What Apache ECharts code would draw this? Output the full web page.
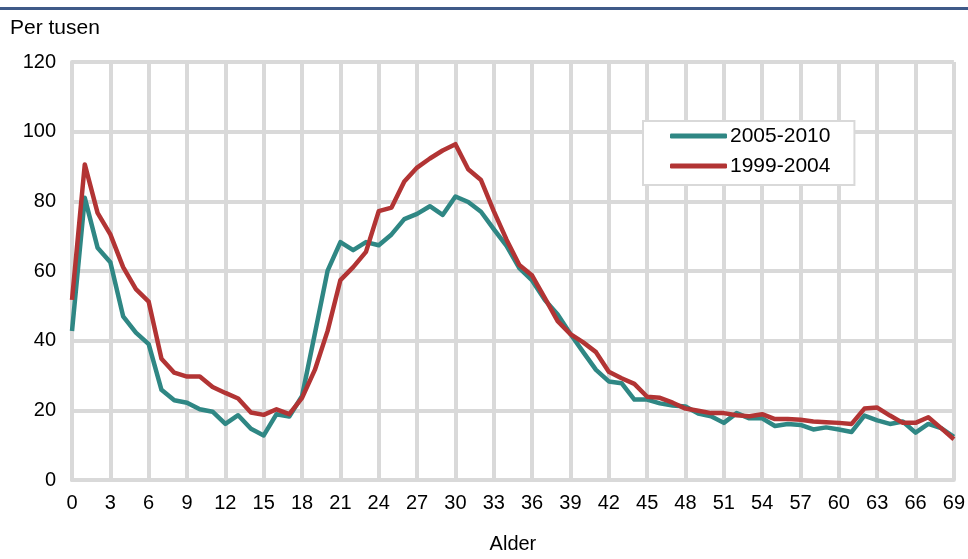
<!DOCTYPE html>
<html>
<head>
<meta charset="utf-8">
<style>
  html, body { margin: 0; padding: 0; background: #fff; }
  #chart { width: 968px; height: 559px; }
</style>
<script src="https://cdn.jsdelivr.net/npm/echarts@6/dist/echarts.min.js"></script>
</head>
<body>
<div id="chart"></div>
<script>
// Alder 0–69
const ages = Array.from({ length: 70 }, (_, i) => i);

// Per tusen, 2005-2010
const rate2005_2010 = [
  42.8, 81.0, 66.7, 62.5, 47.0, 42.3, 39.0, 25.9, 22.9, 22.2,
  20.3, 19.6, 16.1, 18.6, 14.7, 12.8, 18.9, 18.2, 24.1, 42.0,
  60.1, 68.3, 66.0, 68.3, 67.4, 70.5, 74.9, 76.4, 78.6, 76.1,
  81.4, 79.8, 77.0, 72.0, 67.2, 60.8, 57.3, 51.7, 47.5, 41.9,
  36.7, 31.6, 28.3, 27.8, 23.1, 23.1, 22.0, 21.4, 21.1, 19.1,
  18.3, 16.4, 19.2, 17.7, 17.7, 15.5, 16.1, 15.8, 14.5, 15.1,
  14.5, 13.8, 18.5, 17.1, 16.1, 16.8, 13.6, 16.1, 14.9, 12.4
];

// Per tusen, 1999-2004
const rate1999_2004 = [
  51.7, 90.6, 76.7, 70.5, 61.1, 54.8, 51.2, 34.8, 30.8, 29.7,
  29.7, 26.7, 25.0, 23.4, 19.4, 18.7, 20.3, 18.9, 23.6, 31.6,
  42.8, 57.4, 61.1, 65.5, 77.2, 78.2, 85.7, 89.7, 92.3, 94.6,
  96.4, 89.2, 86.1, 77.2, 69.0, 61.7, 58.7, 52.2, 45.6, 41.9,
  39.5, 36.7, 31.1, 29.2, 27.6, 23.9, 23.6, 22.2, 20.5, 19.9,
  19.2, 19.2, 18.6, 18.3, 18.9, 17.5, 17.5, 17.3, 16.8, 16.6,
  16.4, 16.1, 20.5, 20.8, 18.5, 16.4, 16.4, 18.0, 14.9, 11.7
];

const seriesNames = ['2005-2010', '1999-2004'];
const seriesColors = ['#2f8784', '#b23434'];

const yTicks = { min: 0, max: 120, step: 20 };
const xTicks = { min: 0, max: 69, step: 3 };

const gridGrey = '#d9d9d9';
const font = 'Liberation Sans, Arial, sans-serif';

const pairs = (vals) => ages.map((a, i) => [a, vals[i]]);

const chart = echarts.init(document.getElementById('chart'), null, { renderer: 'canvas' });

chart.setOption({
  animation: false,
  backgroundColor: '#ffffff',
  textStyle: { fontFamily: font, color: '#000' },
  graphic: [
    {
      type: 'rect',
      left: 0, top: 7,
      shape: { width: 968, height: 3 },
      style: { fill: '#3f5a88' },
      silent: true
    },
    {
      type: 'text',
      left: 10, top: 18,
      style: { text: 'Per tusen', font: '21px ' + font, fill: '#000' },
      silent: true
    }
  ],
  grid: { left: 72, right: 13, top: 62, bottom: 70, containLabel: false },
  legend: {
    data: seriesNames,
    orient: 'vertical',
    left: 643,
    top: 121,
    padding: [4, 24, 8, 27],
    itemGap: 8,
    itemWidth: 57,
    itemHeight: 5,
    itemStyle: { borderWidth: 0 },
    icon: 'roundRect',
    backgroundColor: '#ffffff',
    borderColor: gridGrey,
    borderWidth: 2,
    textStyle: { fontFamily: font, fontSize: 21, color: '#000', padding: [0, 0, 0, -2], lineHeight: 22 }
  },
  xAxis: {
    type: 'value',
    min: xTicks.min,
    max: xTicks.max,
    interval: xTicks.step,
    name: 'Alder',
    nameLocation: 'middle',
    nameGap: 54,
    nameTextStyle: { fontFamily: font, fontSize: 20, color: '#000' },
    axisLine: { show: true, lineStyle: { color: gridGrey, width: 4 } },
    axisTick: { show: false },
    axisLabel: { fontFamily: font, fontSize: 20, color: '#000', margin: 13 },
    splitLine: { show: true, lineStyle: { color: gridGrey, width: 4 } }
  },
  yAxis: {
    type: 'value',
    min: yTicks.min,
    max: yTicks.max,
    interval: yTicks.step,
    axisLine: { show: true, lineStyle: { color: gridGrey, width: 4 } },
    axisTick: { show: false },
    axisLabel: { fontFamily: font, fontSize: 20, color: '#000', margin: 16 },
    splitLine: { show: true, lineStyle: { color: gridGrey, width: 4 } }
  },
  series: [
    {
      name: seriesNames[0],
      type: 'line',
      data: pairs(rate2005_2010),
      showSymbol: false,
      symbol: 'none',
      color: seriesColors[0],
      lineStyle: { width: 4.5, color: seriesColors[0], join: 'round' },
      z: 3
    },
    {
      name: seriesNames[1],
      type: 'line',
      data: pairs(rate1999_2004),
      showSymbol: false,
      symbol: 'none',
      color: seriesColors[1],
      lineStyle: { width: 4.5, color: seriesColors[1], join: 'round' },
      z: 4
    }
  ]
});
</script>
</body>
</html>
